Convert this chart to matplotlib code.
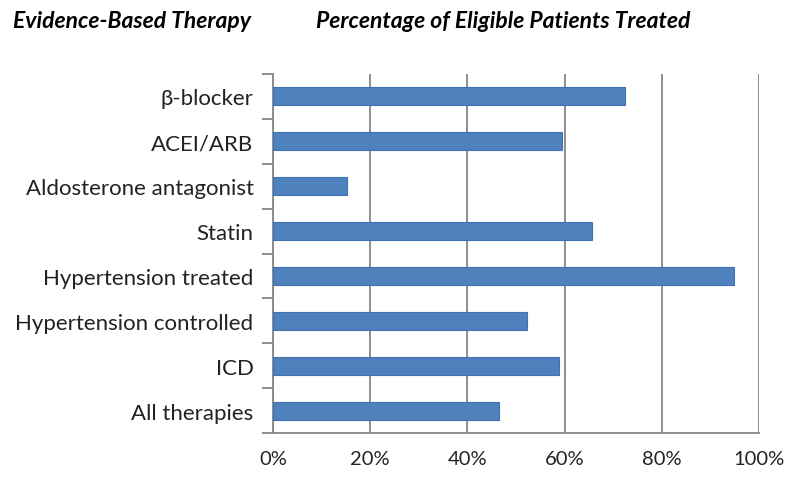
import matplotlib.pyplot as plt
from matplotlib.ticker import FuncFormatter, FixedLocator

therapies = ['β-blocker', 'ACEI/ARB', 'Aldosterone antagonist', 'Statin',
             'Hypertension treated', 'Hypertension controlled', 'ICD', 'All therapies']
treated_pct = [72.4, 59.5, 15.3, 65.7, 94.8, 52.3, 58.8, 46.5]

plt.rcParams['font.family'] = ['Lato', 'DejaVu Sans']

fig = plt.figure(figsize=(8, 4.85), dpi=100)
ax = fig.add_axes([273/800, 1 - 434/485, 486/800, 359/485])

ypos = list(range(len(therapies)))[::-1]
ax.barh(ypos, treated_pct, height=0.4, color='#4F81BD', edgecolor='#3F72B5', linewidth=0.8, zorder=3)

ax.set_xlim(0, 100)
ax.set_ylim(-0.5, len(therapies) - 0.5)

ax.set_xticks([0, 20, 40, 60, 80, 100])
ax.xaxis.set_major_formatter(FuncFormatter(lambda v, p: '%d%%' % v))
ax.tick_params(axis='x', length=0, labelsize=14.5, colors='#222222', pad=12)
ax.grid(axis='x', color='#868686', linewidth=1.3, zorder=1)

ax.set_yticks(ypos)
ax.set_yticklabels(therapies)
ax.yaxis.set_minor_locator(FixedLocator([i - 0.5 for i in range(len(therapies) + 1)]))
ax.tick_params(axis='y', which='major', length=0, labelsize=16, colors='#222222', pad=14)
ax.tick_params(axis='y', which='minor', length=8, width=1.3, color='#868686', direction='out')

for s in ['top', 'right']:
    ax.spines[s].set_visible(False)
for s in ['left', 'bottom']:
    ax.spines[s].set_color('#868686')
    ax.spines[s].set_linewidth(1.3)

fig.text(13/800, 1 - 22/485, 'Evidence-Based Therapy', fontsize=16.5, fontweight='bold',
         fontstyle='italic', va='center', ha='left')
fig.text(316/800, 1 - 22/485, 'Percentage of Eligible Patients Treated', fontsize=16.5,
         fontweight='bold', fontstyle='italic', va='center', ha='left')

fig.savefig('out.png', dpi=100)
